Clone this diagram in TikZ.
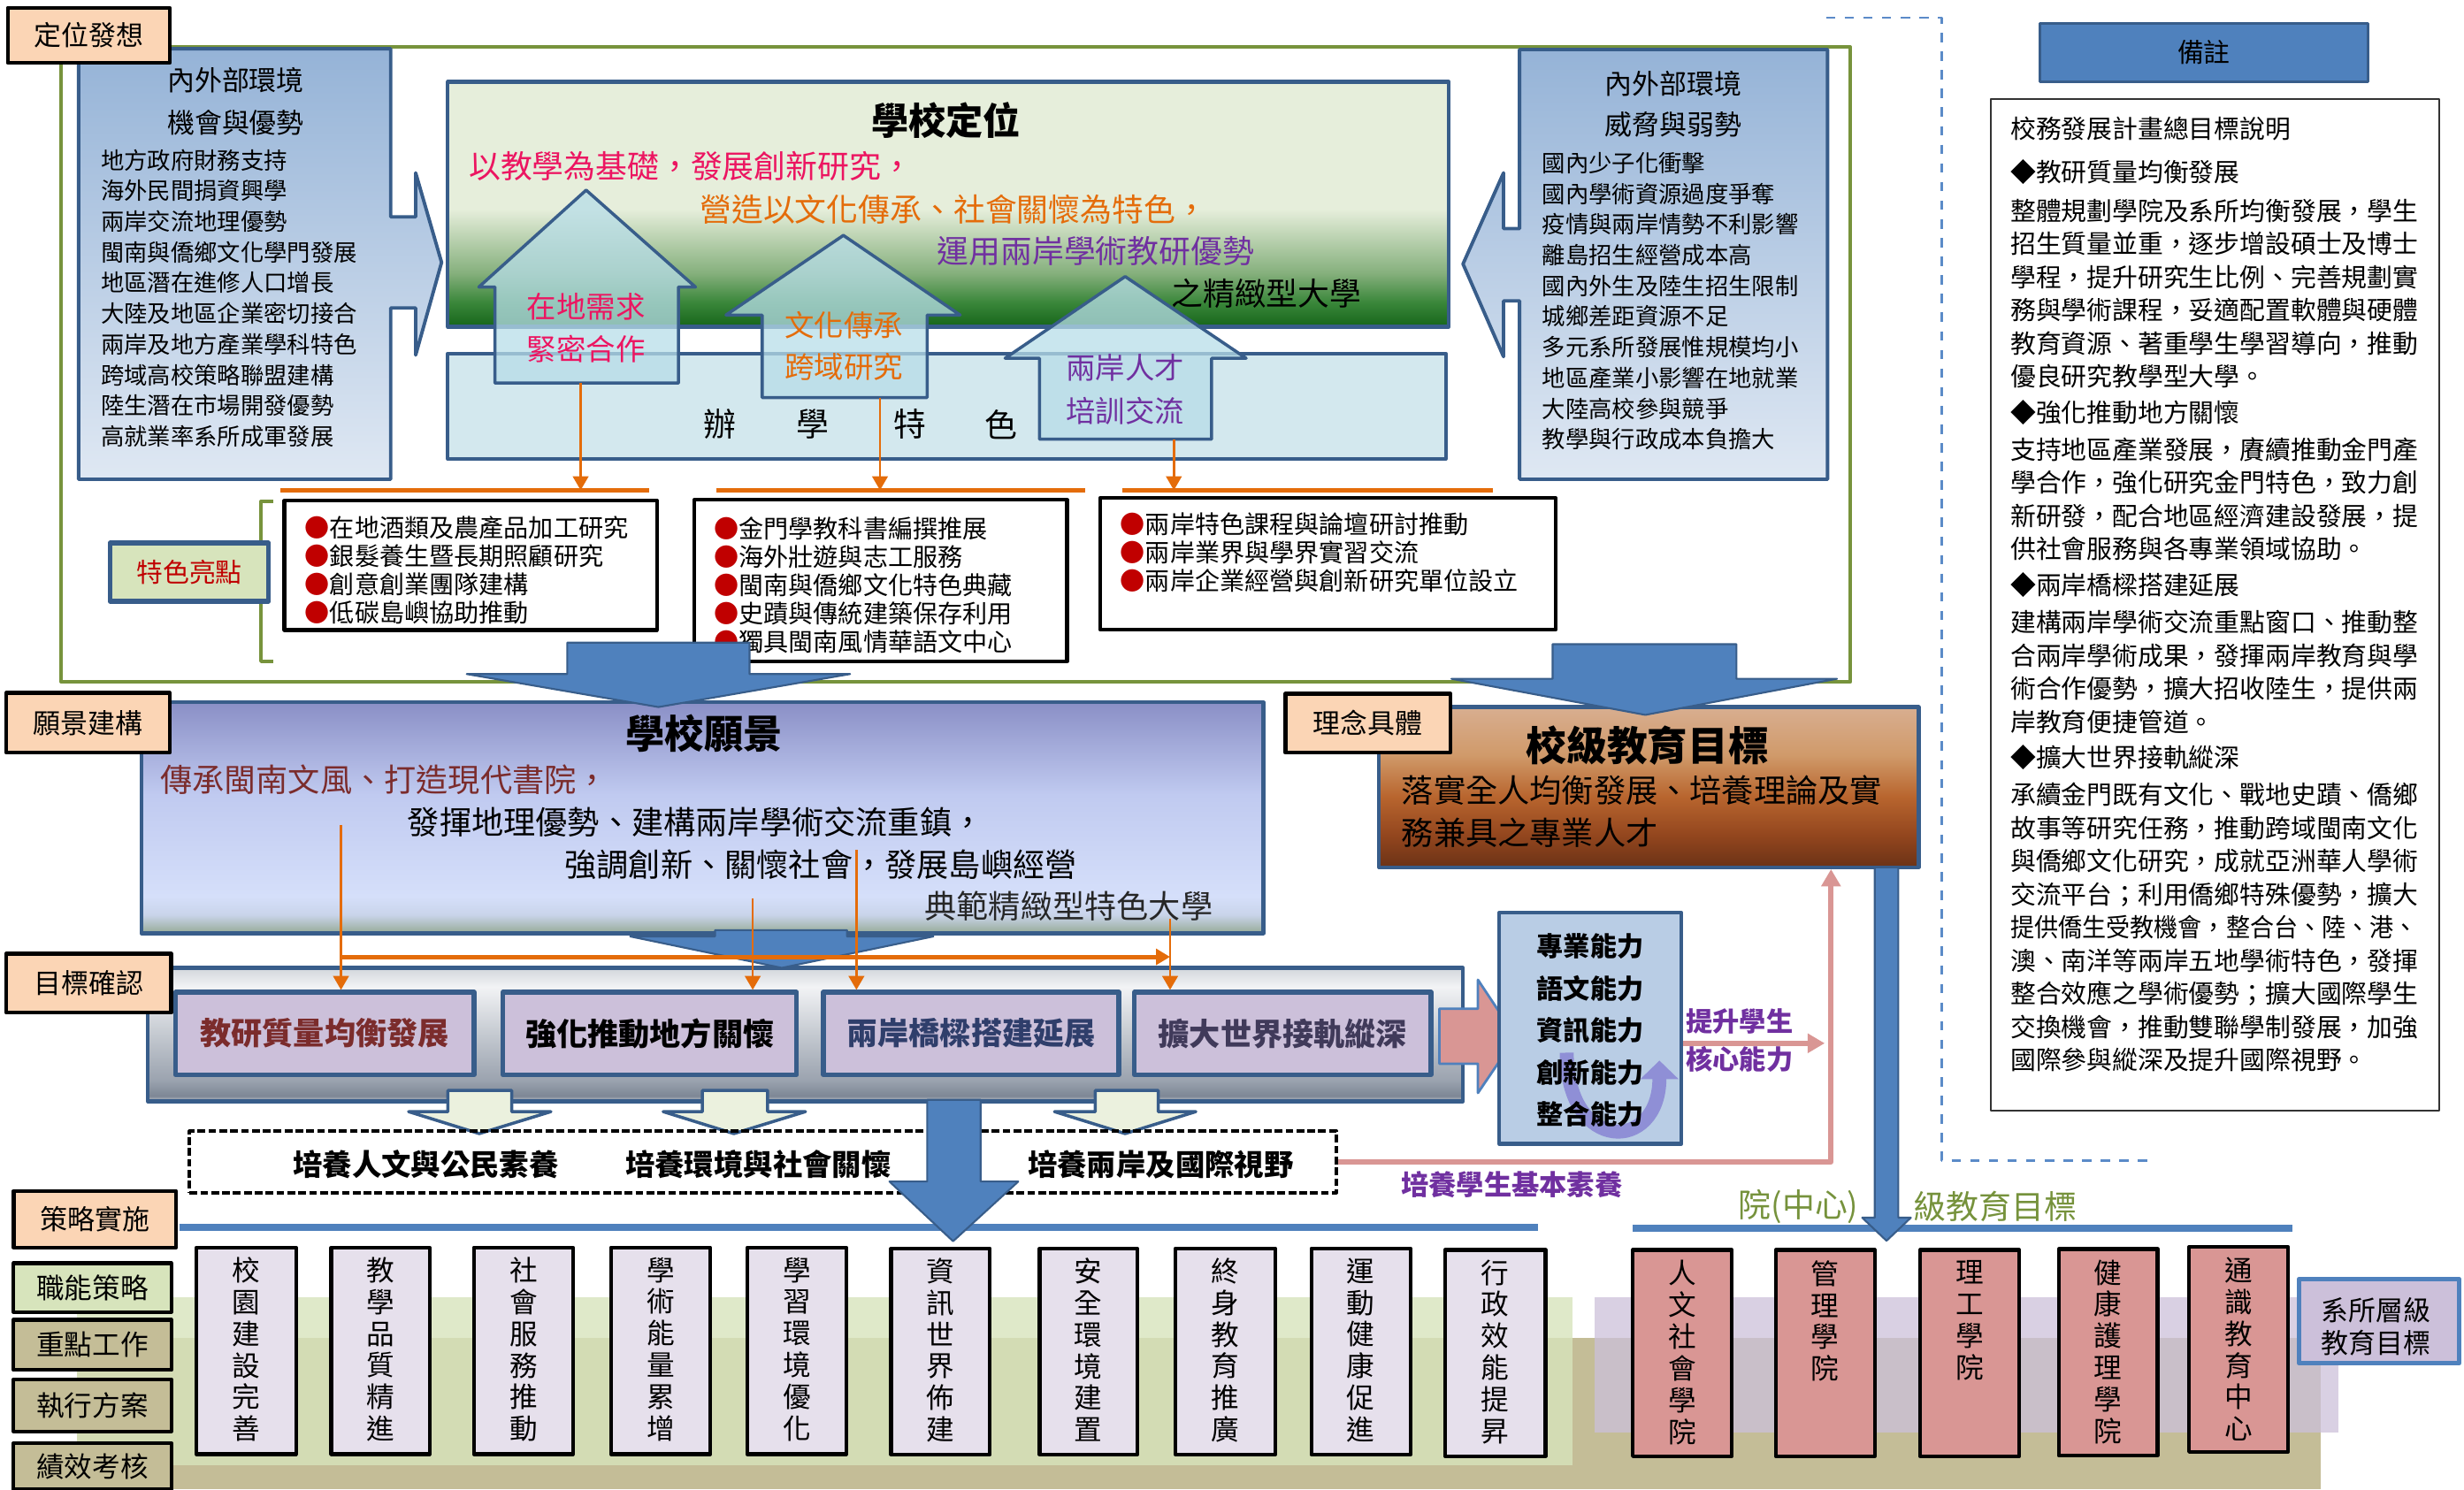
\documentclass[tikz,border=0pt]{standalone}
\usepackage{fontspec}
\setmainfont{Noto Sans CJK TC}
\usetikzlibrary{arrows.meta,fit,calc,positioning}
\newcommand{\setfs}[2]{\fontsize{#1}{#2}\selectfont}
\newcommand{\hlbul}{{\color{bulletred}●}}
\definecolor{peach}{HTML}{FBD5B5}
\definecolor{olive}{HTML}{77933C}
\definecolor{navy}{HTML}{385D8A}
\definecolor{bluefill}{HTML}{4F81BD}
\definecolor{pinkfill}{HTML}{D99694}
\definecolor{lav}{HTML}{CCC0DA}
\definecolor{lavlight}{HTML}{E6E0EC}
\definecolor{greenlight}{HTML}{D7E4BC}
\definecolor{khaki}{HTML}{C4BD97}
\definecolor{ablue}{HTML}{B9CDE5}
\definecolor{featblue}{HTML}{D3E8EE}
\definecolor{upfill}{HTML}{B7DDE8}
\definecolor{palegreen}{HTML}{EBF1DE}
\definecolor{pinktext}{HTML}{EC1561}
\definecolor{orangetext}{HTML}{E46C0A}
\definecolor{purpletext}{HTML}{7030A0}
\definecolor{darkred}{HTML}{7B2C2C}
\definecolor{bulletred}{HTML}{C00000}
\definecolor{envtop}{HTML}{95B3D7}
\definecolor{envbot}{HTML}{DFE8F3}
\definecolor{ushape}{HTML}{8F8FD6}
\definecolor{dashblue}{HTML}{5B8BC8}
\definecolor{goalthree}{HTML}{2F3E6B}
\definecolor{goalfour}{HTML}{403A5A}
\definecolor{olivetext}{HTML}{76923C}
\definecolor{posdark}{HTML}{16651A}
\definecolor{posmida}{HTML}{3A873A}
\definecolor{posmidb}{HTML}{86B07D}
\definecolor{poslight}{HTML}{E6EEDB}
\definecolor{visbot}{HTML}{96AA96}
\definecolor{vismida}{HTML}{C9D4EA}
\definecolor{vislight}{HTML}{D5DFFA}
\definecolor{vismidb}{HTML}{C0CAF0}
\definecolor{vistop}{HTML}{8A8FC6}
\definecolor{gbedge}{HTML}{C7CCD3}
\definecolor{gbdark}{HTML}{7D8795}
\definecolor{gbmid}{HTML}{9BA3AF}
\definecolor{gbgray}{HTML}{C4C9D0}
\definecolor{gbwhite}{HTML}{F2F3F5}
\definecolor{gbtop}{HTML}{D2D6DB}
\definecolor{sgdark}{HTML}{6B3216}
\definecolor{sgmida}{HTML}{93461E}
\definecolor{sgmidb}{HTML}{B8652E}
\definecolor{sgmidc}{HTML}{D09A6A}
\definecolor{sgtop}{HTML}{D8AE90}
\pgfdeclareverticalshading{posshade}{100bp}{color(0bp)=(posdark); color(25bp)=(posdark); color(30bp)=(posmida); color(36bp)=(posmidb); color(49bp)=(poslight); color(100bp)=(poslight)}
\pgfdeclareverticalshading{visshade}{100bp}{color(0bp)=(visbot); color(25bp)=(visbot); color(29bp)=(vismida); color(33bp)=(vislight); color(55bp)=(vismidb); color(75bp)=(vistop); color(100bp)=(vistop)}
\pgfdeclareverticalshading{goalshade}{100bp}{color(0bp)=(gbedge); color(25bp)=(gbedge); color(27bp)=(gbdark); color(33bp)=(gbmid); color(50bp)=(gbgray); color(68bp)=(gbwhite); color(75bp)=(gbtop); color(100bp)=(gbtop)}
\pgfdeclareverticalshading{sgshade}{100bp}{color(0bp)=(sgdark); color(25bp)=(sgdark); color(35bp)=(sgmida); color(47bp)=(sgmidb); color(60bp)=(sgmidc); color(75bp)=(sgtop); color(100bp)=(sgtop)}
\tikzset{
  labelbox/.style={draw=black,line width=1.3pt,fill=peach,inner sep=0pt,font=\setfs{8.8}{10}},
  envshape/.style={top color=envtop,bottom color=envbot,draw=navy,line width=1.1pt},
  envtitle/.style={inner sep=0pt,font=\setfs{8.8}{10}},
  envtext/.style={anchor=north west,inner sep=0pt,align=left,font=\setfs{7.5}{9.87}},
  uparrow/.style={fill=upfill,fill opacity=0.75,draw=navy,line width=1pt},
  uptext/.style={inner sep=0pt,font=\setfs{9.5}{11}},
  hlbox/.style={draw=black,line width=1.2pt,fill=white,inner sep=0pt},
  hltext/.style={anchor=north west,inner sep=0pt,align=left,font=\setfs{8}{9.07}},
  orangeline/.style={draw=orangetext,line width=0.8pt,-{Triangle[width=5pt,length=4.5pt]}},
  orangebar/.style={draw=orangetext,line width=1.6pt},
  bigarrow/.style={fill=bluefill,draw=navy,line width=0.6pt},
  goalbox/.style={draw=navy,line width=1.5pt,fill=lav,inner sep=0pt,font=\setfs{10}{12}\bfseries},
  downarrow/.style={fill=palegreen,draw=navy,line width=1pt},
  basetext/.style={inner sep=0pt,font=\setfs{9.5}{11}\bfseries},
  stratbox/.style={draw=black,line width=1.2pt,fill=lavlight,inner sep=0pt},
  collegebox/.style={draw=black,line width=1.2pt,fill=pinkfill,inner sep=0pt},
  sidebox/.style={draw=black,line width=1.2pt,inner sep=0pt,font=\setfs{9}{10}},
  vtext/.style={anchor=north,inner sep=0pt,align=center,font=\setfs{9}{10.2}},
  pinkline/.style={draw=pinkfill,line width=1.8pt},
  abtext/.style={inner sep=0pt,font=\setfs{8.6}{10}\bfseries},
}
\begin{document}
\begin{tikzpicture}[x=0.17768mm,y=-0.17768mm,join=round]
\useasboundingbox (0,0) rectangle (1568,948);
\fill[khaki] (49,851.7) rectangle (1477,948);
\fill[greenlight,fill opacity=0.8] (49,825.6) rectangle (1000.6,932.6);
\fill[lav,fill opacity=0.75] (1015,825.6) rectangle (1488,911.7);
\draw[olive,line width=1.1pt] (39,30) rectangle (1177.5,434);
\draw[dashblue,dashed,line width=0.8pt] (1162,11.3) -- (1235.5,11.3) -- (1235.5,738.5) -- (1366.6,738.5);

\shadedraw[envshape] (50,31) -- (248.6,31) -- (248.6,138) -- (264.5,138) -- (264.5,110) -- (281,167) -- (264.5,226) -- (264.5,196) -- (248.6,196) -- (248.6,305) -- (50,305) -- cycle;
\node[envtitle] (envLa) at (150,51) {內外部環境};
\node[envtitle] (envLb) at (150,78) {機會與優勢};
\node[envtext] (envLtxt) at (63.8,94.6) {地方政府財務支持\\海外民間捐資興學\\兩岸交流地理優勢\\閩南與僑鄉文化學門發展\\地區潛在進修人口增長\\大陸及地區企業密切接合\\兩岸及地方產業學科特色\\跨域高校策略聯盟建構\\陸生潛在市場開發優勢\\高就業率系所成軍發展};
\shadedraw[envshape] (967,31.5) -- (1163,31.5) -- (1163,305) -- (967,305) -- (967,191.5) -- (956.8,191.5) -- (956.8,227) -- (931,168) -- (956.8,110) -- (956.8,145.5) -- (967,145.5) -- cycle;
\node[envtitle] (envRa) at (1065,53.5) {內外部環境};
\node[envtitle] (envRb) at (1065,79) {威脅與弱勢};
\node[envtext] (envRtxt) at (981,96.6) {國內少子化衝擊\\國內學術資源過度爭奪\\疫情與兩岸情勢不利影響\\離島招生經營成本高\\國內外生及陸生招生限制\\城鄉差距資源不足\\多元系所發展惟規模均小\\地區產業小影響在地就業\\大陸高校參與競爭\\教學與行政成本負擔大};

\node[fit={(285,52) (922,208)},inner sep=0pt,draw=navy,line width=1.2pt,shade,shading=posshade] (posbox) {};
\node[fit={(285,225) (920,292)},inner sep=0pt,draw=navy,line width=1.2pt,fill=featblue] (featbox) {};
\node[inner sep=0pt,font=\setfs{12}{14}\bfseries] (postitle) at (602,76.4) {學校定位};
\node[anchor=west,inner sep=0pt,font=\setfs{10.2}{12},text=pinktext] (posa) at (298,105.6) {以教學為基礎，發展創新研究，};
\node[anchor=west,inner sep=0pt,font=\setfs{10.2}{12},text=orangetext] (posb) at (445,133) {營造以文化傳承、社會關懷為特色，};
\node[anchor=west,inner sep=0pt,font=\setfs{10.2}{12},text=purpletext] (posc) at (596,160) {運用兩岸學術教研優勢};
\node[anchor=west,inner sep=0pt,font=\setfs{10.2}{12}] (posd) at (745,187) {之精緻型大學};
\node[inner sep=0pt,font=\setfs{10.5}{12}] (feata) at (458,270) {辦};
\node[inner sep=0pt,font=\setfs{10.5}{12}] (featb) at (517,270) {學};
\node[inner sep=0pt,font=\setfs{10.5}{12}] (featc) at (579,270) {特};
\node[inner sep=0pt,font=\setfs{10.5}{12}] (featd) at (637,270) {色};

\filldraw[uparrow] (315,243.8) -- (315,182.7) -- (304.7,182.7) -- (373,121) -- (442.6,182.7) -- (431.7,182.7) -- (431.7,243.8) -- cycle;
\filldraw[uparrow] (485,253) -- (485,200.5) -- (462,200.5) -- (536.7,149.8) -- (611,200.5) -- (590,200.5) -- (590,253) -- cycle;
\filldraw[uparrow] (661.5,279.5) -- (661.5,228) -- (639.6,228) -- (716,176) -- (793,228) -- (771,228) -- (771,279.5) -- cycle;
\node[uptext,text=pinktext] (upAa) at (373,195) {在地需求};
\node[uptext,text=pinktext] (upAb) at (373,222) {緊密合作};
\node[uptext,text=orangetext] (upBa) at (537,207) {文化傳承};
\node[uptext,text=orangetext] (upBb) at (537,233.4) {跨域研究};
\node[uptext,text=purpletext] (upCa) at (716,234) {兩岸人才};
\node[uptext,text=purpletext] (upCb) at (716,261.6) {培訓交流};

\coordinate (upA) at (369.5,243.8);
\coordinate (upB) at (560,253);
\coordinate (upC) at (747,279.5);
\draw[orangebar] (178.6,312) coordinate (barA) -- (413,312);
\draw[orangebar] (456,312) coordinate (barB) -- (690.6,312);
\draw[orangebar] (714,312) coordinate (barC) -- (950,312);
\draw[orangeline] (upA) -- (upA |- barA);
\draw[orangeline] (upB) -- (upB |- barB);
\draw[orangeline] (upC) -- (upC |- barC);

\draw[olive,line width=1pt] (174,319) -- (166,319) -- (166,421) -- (174,421);
\node[fit={(70,345.6) (171,382.7)},inner sep=0pt,draw=navy,line width=1.5pt,fill=greenlight] (featpt) {};
\node[inner sep=0pt,font=\setfs{8.5}{10},text=bulletred] at (featpt.center) {特色亮點};

\node[hlbox,fit={(181,318.6) (418,401)}] (hlA) {};
\node[hlbox,fit={(442,318) (679,421)}] (hlB) {};
\node[hlbox,fit={(700,317) (990,400.7)}] (hlC) {};
\node[hltext] (hlAtxt) at (193.7,328) {\hlbul 在地酒類及農產品加工研究\\\hlbul 銀髮養生暨長期照顧研究\\\hlbul 創意創業團隊建構\\\hlbul 低碳島嶼協助推動};
\node[hltext] (hlBtxt) at (454,328.7) {\hlbul 金門學教科書編撰推展\\\hlbul 海外壯遊與志工服務\\\hlbul 閩南與僑鄉文化特色典藏\\\hlbul 史蹟與傳統建築保存利用\\\hlbul 獨具閩南風情華語文中心};
\node[hltext] (hlCtxt) at (712.6,325.7) {\hlbul 兩岸特色課程與論壇研討推動\\\hlbul 兩岸業界與學界實習交流\\\hlbul 兩岸企業經營與創新研究單位設立};

\node[fit={(90,447) (804,594)},inner sep=0pt,draw=navy,line width=1.2pt,shade,shading=visshade] (visbox) {};
\node[inner sep=0pt,font=\setfs{12.6}{14}\bfseries] (vistitle) at (448,467) {學校願景};
\node[anchor=west,inner sep=0pt,font=\setfs{10.3}{12},text=darkred] (visa) at (101.5,496) {傳承閩南文風、打造現代書院，};
\node[anchor=west,inner sep=0pt,font=\setfs{10.3}{12}] (visb) at (259,523) {發揮地理優勢、建構兩岸學術交流重鎮，};
\node[anchor=west,inner sep=0pt,font=\setfs{10.3}{12}] (visc) at (359,550) {強調創新、關懷社會，發展島嶼經營};
\node[anchor=west,inner sep=0pt,font=\setfs{10.3}{12},text=black!85] (visd) at (588,577) {典範精緻型特色大學};

\node[fit={(877.6,450) (1221,552)},inner sep=0pt,draw=navy,line width=1.2pt,shade,shading=sgshade] (sgbox) {};
\node[inner sep=0pt,font=\setfs{13}{15}\bfseries] (sgtitle) at (1048.5,474.5) {校級教育目標};
\node[anchor=west,inner sep=0pt,font=\setfs{10.3}{12}] (sga) at (891.6,503) {落實全人均衡發展、培養理論及實};
\node[anchor=west,inner sep=0pt,font=\setfs{10.3}{12}] (sgb) at (891.6,530) {務兼具之專業人才};

\filldraw[bigarrow] (361,409) -- (477,409) -- (477,429) -- (541,429) -- (419,450) -- (297,429) -- (361,429) -- cycle;
\filldraw[bigarrow] (988,410) -- (1105,410) -- (1105,432) -- (1169,432) -- (1047,455) -- (923.6,432) -- (988,432) -- cycle;

\node[fit={(94,616) (931,701)},inner sep=0pt,draw=navy,line width=1.2pt,shade,shading=goalshade] (goalbar) {};
\filldraw[bigarrow] (455,592) -- (539,592) -- (539,596) -- (594,596) -- (497.5,616) -- (401,596) -- (455,596) -- cycle;
\node[goalbox,fit={(111.6,631.5) (301.6,684)},text=darkred] (g1) {};
\node[goalbox,fit={(320,631.5) (507,684)}] (g2) {};
\node[goalbox,fit={(524,631.5) (712,684)}] (g3) {};
\node[goalbox,fit={(722,631.5) (910.6,684)}] (g4) {};
\node[inner sep=0pt,font=\setfs{10}{12}\bfseries,text=darkred] at (g1.center) {教研質量均衡發展};
\node[inner sep=0pt,font=\setfs{10}{12}\bfseries] at (g2.center) {強化推動地方關懷};
\node[inner sep=0pt,font=\setfs{10}{12}\bfseries,text=goalthree] at (g3.center) {兩岸橋樑搭建延展};
\node[inner sep=0pt,font=\setfs{10}{12}\bfseries,text=goalfour] at (g4.center) {擴大世界接軌縱深};
\coordinate (vA) at (217,525);
\coordinate (vB) at (479,572);
\coordinate (vC) at (545,541);
\coordinate (vD) at (744.6,585);
\draw[orangeline] (vA) -- (vA |- g1.north);
\draw[orangeline] (vB) -- (vB |- g2.north);
\draw[orangeline] (vC) -- (vC |- g3.north);
\draw[orangeline] (vD) -- (vD |- g4.north);
\draw[orangeline,line width=1.4pt] (vA |- 0,609) -- (vD |- 0,609);

\node[labelbox,fit={(5,5) (108,40)}] (lblpos) {};
\node[inner sep=0pt,font=\setfs{8.8}{10}] at (lblpos.center) {定位發想};
\node[labelbox,fit={(4,441) (108,479)}] (lblvis) {};
\node[inner sep=0pt,font=\setfs{8.8}{10}] at (lblvis.center) {願景建構};
\node[labelbox,fit={(818,441.5) (923,479)}] (lblsg) {};
\node[inner sep=0pt,font=\setfs{8.8}{10}] at (lblsg.center) {理念具體};
\node[labelbox,fit={(4,607) (109,644.5)}] (lblgoal) {};
\node[inner sep=0pt,font=\setfs{8.8}{10}] at (lblgoal.center) {目標確認};
\node[labelbox,fit={(8.6,758) (112,794)}] (lblstr) {};
\node[inner sep=0pt,font=\setfs{8.8}{10}] at (lblstr.center) {策略實施};

\filldraw[downarrow] (285,694) -- (325.6,694) -- (325.6,707.5) -- (350.6,707.5) -- (305,721.5) -- (260,707.5) -- (285,707.5) -- cycle;
\filldraw[downarrow] (447,694) -- (488.5,694) -- (488.5,707.5) -- (512.6,707.5) -- (467,721.5) -- (422,707.5) -- (447,707.5) -- cycle;
\filldraw[downarrow] (697,694) -- (737,694) -- (737,707.5) -- (761,707.5) -- (716,721.5) -- (671,707.5) -- (697,707.5) -- cycle;
\node[fit={(120.6,720) (850.4,759)},inner sep=0pt,draw=black,line width=1.2pt,dash pattern=on 2.5pt off 1pt] (basebox) {};
\node[basetext] (basea) at (271,741) {培養人文與公民素養};
\node[basetext] (baseb) at (482.5,741) {培養環境與社會關懷};
\node[basetext] (basec) at (738.6,741) {培養兩岸及國際視野};

\draw[bluefill,line width=2.2pt] (114,781) -- (979,781);
\draw[bluefill,line width=2.2pt] (1039,781.7) -- (1459,781.7);
\filldraw[bigarrow] (590,700) -- (624,700) -- (624,752) -- (648,752) -- (606.5,790) -- (566,752) -- (590,752) -- cycle;

\filldraw[fill=pinkfill,draw=bluefill,line width=0.8pt] (916,642) -- (940.5,642) -- (940.5,623.6) -- (964.7,660) -- (940.5,695.6) -- (940.5,677) -- (916,677) -- cycle;
\node[fit={(954,581) (1070,728)},inner sep=0pt,draw=navy,line width=1.2pt,fill=ablue] (abox) {};
\draw[ushape,line width=4.5pt,-{Triangle[width=12pt,length=6pt]}] (997,670) .. controls (997,734) and (1056,734) .. (1056,675);
\node[abtext] (aba) at (1012,602) {專業能力};
\node[abtext] (abb) at (1012,629) {語文能力};
\node[abtext] (abc) at (1012,656) {資訊能力};
\node[abtext] (abd) at (1012,682.5) {創新能力};
\node[abtext] (abe) at (1012,709) {整合能力};
\draw[pinkline,-{Triangle[width=6pt,length=5.5pt]}] ($(abox.east)+(0,9.5)$) -- ++(90,0);
\node[inner sep=0pt,font=\setfs{8.6}{10}\bfseries,text=purpletext] (uplifta) at (1107,650) {提升學生};
\node[inner sep=0pt,font=\setfs{8.6}{10}\bfseries,text=purpletext] (upliftb) at (1107,674) {核心能力};
\draw[pinkline,-{Triangle[width=6pt,length=5.5pt]}] (basebox.east) -| ($(sgbox.south east)+(-57,0)$);
\node[inner sep=0pt,font=\setfs{8.9}{10}\bfseries,text=purpletext] (basicx) at (962,754) {培養學生基本素養};

\filldraw[bigarrow] (1193,552) -- (1208,552) -- (1208,775) -- (1216,775) -- (1200.5,789.7) -- (1185,775) -- (1193,775) -- cycle;
\node[inner sep=0pt,font=\setfs{10.5}{12},text=olivetext] (colla) at (1144.5,768) {院(中心)};
\node[inner sep=0pt,font=\setfs{10.5}{12},text=olivetext] (collb) at (1269.5,768) {級教育目標};

\node[sidebox,fill=greenlight,fit={(8.6,804) (109,835)}] (sideA) {};
\node[inner sep=0pt,font=\setfs{9}{10}] at (sideA.center) {職能策略};
\node[sidebox,fill=khaki,fit={(8.6,840) (109,872)}] (sideB) {};
\node[inner sep=0pt,font=\setfs{9}{10}] at (sideB.center) {重點工作};
\node[sidebox,fill=khaki,fit={(8.6,878) (109,911)}] (sideC) {};
\node[inner sep=0pt,font=\setfs{9}{10}] at (sideC.center) {執行方案};
\node[sidebox,fill=khaki,fit={(8.6,918.5) (109,948)}] (sideD) {};
\node[inner sep=0pt,font=\setfs{9}{10}] at (sideD.center) {績效考核};

\node[stratbox,fit={(125,794) (188.4,925.5)}] (s1) {};
\node[stratbox,fit={(210.8,794) (273.4,925.5)}] (s2) {};
\node[stratbox,fit={(301.5,794) (364.7,925.5)}] (s3) {};
\node[stratbox,fit={(388.8,794) (452,925.5)}] (s4) {};
\node[stratbox,fit={(475.5,794) (538.6,925.5)}] (s5) {};
\node[stratbox,fit={(567,794.5) (630,925.8)}] (s6) {};
\node[stratbox,fit={(661.6,794.5) (723.6,925.8)}] (s7) {};
\node[stratbox,fit={(748,794.5) (811.5,925.8)}] (s8) {};
\node[stratbox,fit={(834.5,794.5) (897.6,925.8)}] (s9) {};
\node[stratbox,fit={(919.6,795.5) (983.5,926.8)}] (s10) {};
\node[vtext] at ($(s1.north)+(0,7)$) {校\\園\\建\\設\\完\\善};
\node[vtext] at ($(s2.north)+(0,7)$) {教\\學\\品\\質\\精\\進};
\node[vtext] at ($(s3.north)+(0,7)$) {社\\會\\服\\務\\推\\動};
\node[vtext] at ($(s4.north)+(0,7)$) {學\\術\\能\\量\\累\\增};
\node[vtext] at ($(s5.north)+(0,7)$) {學\\習\\環\\境\\優\\化};
\node[vtext] at ($(s6.north)+(0,7)$) {資\\訊\\世\\界\\佈\\建};
\node[vtext] at ($(s7.north)+(0,7)$) {安\\全\\環\\境\\建\\置};
\node[vtext] at ($(s8.north)+(0,7)$) {終\\身\\教\\育\\推\\廣};
\node[vtext] at ($(s9.north)+(0,7)$) {運\\動\\健\\康\\促\\進};
\node[vtext] at ($(s10.north)+(0,7)$) {行\\政\\效\\能\\提\\昇};

\node[collegebox,fit={(1039,795.5) (1102,926.8)}] (k1) {};
\node[collegebox,fit={(1130,795.5) (1193,926.8)}] (k2) {};
\node[collegebox,fit={(1222,795.5) (1285,926.8)}] (k3) {};
\node[collegebox,fit={(1310,795) (1373,926.3)}] (k4) {};
\node[collegebox,fit={(1393,793.6) (1456,924)}] (k5) {};
\node[vtext] at ($(k1.north)+(0,7.5)$) {人\\文\\社\\會\\學\\院};
\node[vtext] at ($(k2.north)+(0,7.5)$) {管\\理\\學\\院};
\node[vtext] at ($(k3.north)+(0,7.5)$) {理\\工\\學\\院};
\node[vtext] at ($(k4.north)+(0,7.5)$) {健\\康\\護\\理\\學\\院};
\node[vtext] at ($(k5.north)+(0,7.5)$) {通\\識\\教\\育\\中\\心};
\node[fit={(1463,814) (1565,867.7)},inner sep=0pt,draw=bluefill,line width=1.5pt,fill=lav] (deptbox) {};
\node[inner sep=0pt,align=center,font=\setfs{8.8}{10.4}] at (1512,844.3) {系所層級\\教育目標};

\node[fit={(1298,15) (1507,52)},inner sep=0pt,draw=navy,line width=1pt,fill=bluefill] (notehead) {};
\node[inner sep=0pt,font=\setfs{8.5}{10}] at (notehead.center) {備註};
\node[fit={(1267,63) (1552,707)},inner sep=0pt,draw=black!80,line width=0.6pt,fill=white] (notebox) {};
\node[anchor=north west,inner sep=0pt,align=left,font=\setfs{8.2}{10.65}] (notetxt) at (1279,74) {校務發展計畫總目標說明\\[3.2pt]
◆教研質量均衡發展\\[1.9pt]
整體規劃學院及系所均衡發展，學生\\
招生質量並重，逐步增設碩士及博士\\
學程，提升研究生比例、完善規劃實\\
務與學術課程，妥適配置軟體與硬體\\
教育資源、著重學生學習導向，推動\\
優良研究教學型大學。\\[0.9pt]
◆強化推動地方關懷\\[1.4pt]
支持地區產業發展，賡續推動金門產\\
學合作，強化研究金門特色，致力創\\
新研發，配合地區經濟建設發展，提\\
供社會服務與各專業領域協助。\\[0.9pt]
◆兩岸橋樑搭建延展\\[1.4pt]
建構兩岸學術交流重點窗口、推動整\\
合兩岸學術成果，發揮兩岸教育與學\\
術合作優勢，擴大招收陸生，提供兩\\
岸教育便捷管道。\\[0.9pt]
◆擴大世界接軌縱深\\[1.4pt]
承續金門既有文化、戰地史蹟、僑鄉\\
故事等研究任務，推動跨域閩南文化\\
與僑鄉文化研究，成就亞洲華人學術\\
交流平台；利用僑鄉特殊優勢，擴大\\
\scalebox{0.94}[1]{提供僑生受教機會，整合台、陸、港、}\\
澳、南洋等兩岸五地學術特色，發揮\\
整合效應之學術優勢；擴大國際學生\\
交換機會，推動雙聯學制發展，加強\\
國際參與縱深及提升國際視野。};
\end{tikzpicture}
\end{document}
